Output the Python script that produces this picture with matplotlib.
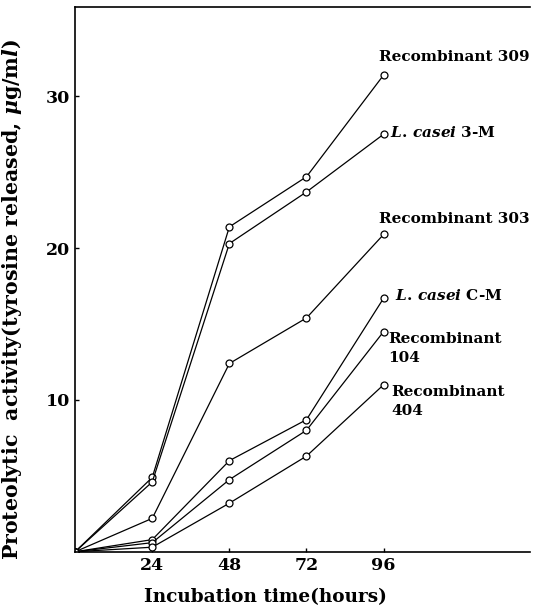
import matplotlib.pyplot as plt
import matplotlib as mpl

mpl.rcParams['font.family'] = 'DejaVu Serif'
mpl.rcParams['font.weight'] = 'bold'
mpl.rcParams['axes.labelweight'] = 'bold'
mpl.rcParams['mathtext.fontset'] = 'custom'
mpl.rcParams['mathtext.rm'] = 'DejaVu Serif:bold'
mpl.rcParams['mathtext.it'] = 'DejaVu Serif:italic:bold'

hours = [0, 24, 48, 72, 96]

rec_309 = [0, 4.9, 21.4, 24.7, 31.4]
casei_3m = [0, 4.6, 20.3, 23.7, 27.5]
rec_303 = [0, 2.2, 12.4, 15.4, 20.9]
casei_cm = [0, 0.8, 6.0, 8.7, 16.7]
rec_104 = [0, 0.6, 4.75, 8.0, 14.5]
rec_404 = [0, 0.3, 3.2, 6.3, 11.0]

series = [rec_309, casei_3m, rec_303, casei_cm, rec_104, rec_404]
labels = ['Recombinant 309', r'$\mathit{L.\,casei}$ 3-M', 'Recombinant 303',
          r'$\mathit{L.\,casei}$ C-M', 'Recombinant\n104', 'Recombinant\n404']
# label anchor (hours, value) just right of / above the last point
label_pos = [(94.5, 32.6), (98, 27.6), (94.5, 21.9), (99.5, 16.9), (97.5, 13.4), (98.5, 9.9)]

fig = plt.figure(figsize=(5.33, 6.09), dpi=100)
ax = fig.add_axes([0.141, 0.094, 0.853, 0.895])

for vals in series:
    ax.plot(hours, vals, color='black', lw=0.9, marker='o', ms=5,
            mfc='white', mec='black', mew=0.9)

for (x, y), lab in zip(label_pos, labels):
    ax.text(x, y, lab, fontsize=11, ha='left', va='center', linespacing=1.45)

ax.set_xlim(0, 141.5)
ax.set_ylim(0, 35.9)
ax.set_xticks([24, 48, 72, 96])
ax.set_yticks([10, 20, 30])
ax.tick_params(direction='in', length=3, labelsize=12.5, width=1)
ax.spines['right'].set_visible(False)
for s in ['left', 'top', 'bottom']:
    ax.spines[s].set_linewidth(1.2)

ax.set_xlabel('Incubation time(hours)', fontsize=13.3)
ax.xaxis.set_label_coords(0.418, -0.066)
ax.set_ylabel(r'Proteolytic  activity(tyrosine released, $\mathit{\mu}$g/m$\mathit{l}$)',
              fontsize=14.8)
ax.yaxis.set_label_coords(-0.112, 0.462)

fig.savefig('out.png', dpi=100)
